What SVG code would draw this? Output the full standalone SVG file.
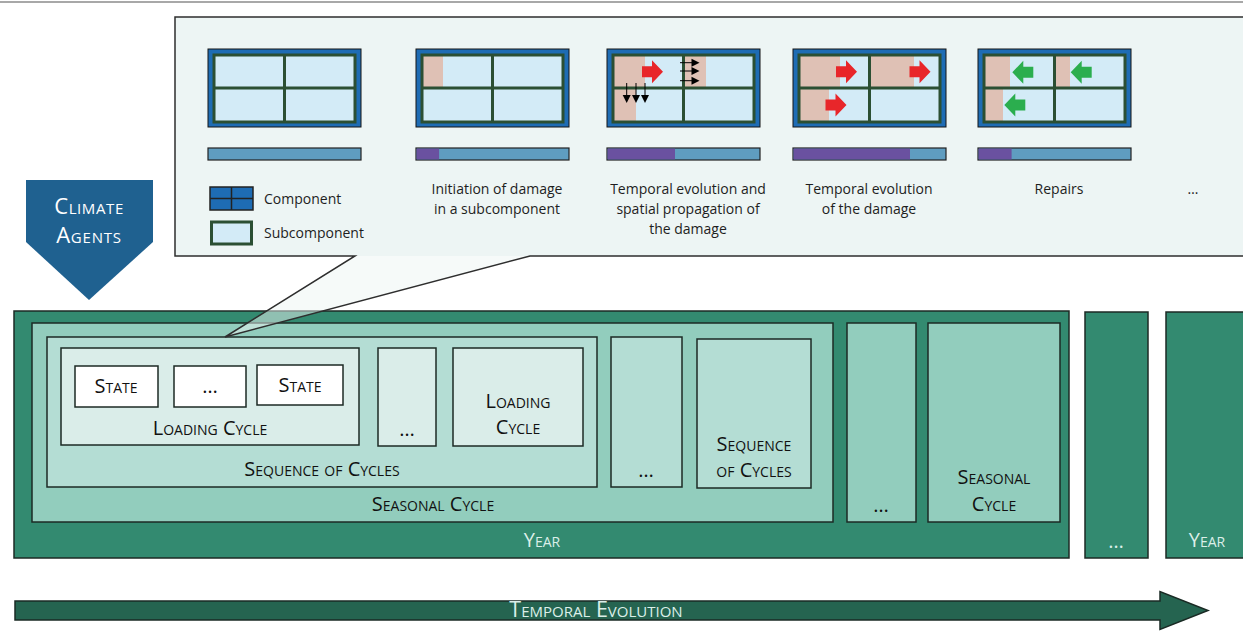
<svg xmlns="http://www.w3.org/2000/svg" xmlns:xlink="http://www.w3.org/1999/xlink" width="1243" height="639" viewBox="0 0 1243 639">
<style>
.t{font-family:"Open Sans","Noto Sans",sans-serif;font-size:14px;fill:#1e1e1e}
.sc{font-family:"Open Sans","Noto Sans",sans-serif;font-size:20px;font-variant:small-caps;fill:#111;text-anchor:middle}
.lt{fill:#dcefe9}
.box{stroke:#1c2a25;stroke-width:1.5}
.yr{fill:#338a70}
.ss{fill:#92cdbd}
.sq{fill:#b4ddd4}
.lc{fill:#daede9}
.st{fill:#ffffff}
.comp{fill:#1e6cb4;stroke:#151515;stroke-width:1}
.cell{fill:#d3ebf7}
.dmg{fill:#dfc1b5}
.frame{fill:none;stroke:#2b4f33;stroke-width:3}
.bar{fill:#5f9dc0;stroke:#222;stroke-width:1.2}
.pur{fill:#6a51a0}
.ra{fill:#e8262a}
.ga{fill:#2bae4e}
.blk{stroke:#000;stroke-width:1}
</style>
<defs>
<path id="rArrow" d="M0,-5.5 H10 V-11.5 L21,0 L10,11.5 V5.5 H0 Z"/>
<path id="gArrow" d="M0,0 L11,-11.5 V-5.5 H21 V5.5 H11 V11.5 Z"/>
<g id="gridBase">
<rect class="comp" x="0" y="49" width="153" height="78"/>
<rect class="cell" x="7" y="56" width="139" height="65"/>
</g>
<g id="gridFrame">
<rect class="frame" x="6" y="55" width="141" height="67"/>
<line class="frame" x1="76.5" y1="55" x2="76.5" y2="122"/>
<line class="frame" x1="6" y1="88" x2="147" y2="88"/>
</g>
</defs>

<rect x="0" y="1" width="1243" height="2" fill="#a8a8a8"/>

<g id="climate-agents">
<polygon points="26,180 153,180 153,242 89,300 26,242" fill="#1f6190"/>
<text x="89" y="214" font-family="'Open Sans','Noto Sans',sans-serif" font-size="22" font-variant="small-caps" letter-spacing="0.6" fill="#ffffff" text-anchor="middle">Climate</text>
<text x="89" y="243" font-family="'Open Sans','Noto Sans',sans-serif" font-size="22" font-variant="small-caps" letter-spacing="0.8" fill="#ffffff" text-anchor="middle">Agents</text>
</g>

<g id="year-1">
<rect class="box yr" x="14" y="311" width="1055" height="247"/>
<text class="sc lt" x="542" y="547">Year</text>
</g>
<g id="seasonal-1">
<rect class="box ss" x="32" y="323" width="801" height="199"/>
<text class="sc" x="433" y="511">Seasonal Cycle</text>
</g>
<g id="sequence-1">
<rect class="box sq" x="47" y="337" width="550" height="150"/>
<text class="sc" x="322" y="476">Sequence of Cycles</text>
</g>
<g id="loading-1">
<rect class="box lc" x="61" y="348" width="298" height="97"/>
<text class="sc" x="210" y="435">Loading Cycle</text>
</g>
<g id="state-1">
<rect class="box st" x="75" y="366" width="83" height="41"/>
<text class="sc" x="116" y="393">State</text>
</g>
<g id="state-dots">
<rect class="box st" x="174" y="366" width="72" height="41"/>
<text class="sc" x="210" y="393">…</text>
</g>
<g id="state-2">
<rect class="box st" x="257" y="365" width="86" height="40"/>
<text class="sc" x="300" y="392">State</text>
</g>
<g id="loading-dots">
<rect class="box lc" x="378" y="348" width="58" height="98"/>
<text class="sc" x="407" y="436">…</text>
</g>
<g id="loading-2">
<rect class="box lc" x="453" y="348" width="130" height="98"/>
<text class="sc" x="518" y="408">Loading</text>
<text class="sc" x="518" y="434">Cycle</text>
</g>
<g id="sequence-dots">
<rect class="box sq" x="611" y="337" width="71" height="150"/>
<text class="sc" x="646" y="477">…</text>
</g>
<g id="sequence-2">
<rect class="box sq" x="697" y="339" width="114" height="149"/>
<text class="sc" x="754" y="451">Sequence</text>
<text class="sc" x="754" y="477">of Cycles</text>
</g>
<g id="seasonal-dots">
<rect class="box ss" x="847" y="323" width="69" height="199"/>
<text class="sc" x="881" y="512">…</text>
</g>
<g id="seasonal-2">
<rect class="box ss" x="928" y="323" width="132" height="199"/>
<text class="sc" x="994" y="484">Seasonal</text>
<text class="sc" x="994" y="511">Cycle</text>
</g>
<g id="year-dots">
<rect class="box yr" x="1085" y="312" width="63" height="246"/>
<text class="sc lt" x="1116" y="548">…</text>
</g>
<g id="year-2">
<rect class="box yr" x="1166" y="312" width="90" height="246"/>
<text class="sc lt" x="1207" y="547">Year</text>
</g>

<g id="callout">
<rect x="175" y="17" width="1080" height="239" fill="#edf5f4"/>
<polygon points="355,256 530,256 225,337" fill="#edf5f4" fill-opacity="0.5"/>
<path d="M355,256 H175 V17 H1255 V256 H530 L225,337 Z" fill="none" stroke="#2e2e2e" stroke-width="1.5" stroke-linejoin="miter"/>
</g>

<g id="state-intact">
<use xlink:href="#gridBase" x="208"/>
<use xlink:href="#gridFrame" x="208"/>
<rect class="bar" x="208" y="148" width="153" height="12"/>
</g>

<g id="state-initiation">
<use xlink:href="#gridBase" x="416"/>
<rect class="dmg" x="422" y="55" width="21" height="33"/>
<use xlink:href="#gridFrame" x="416"/>
<rect class="bar" x="416" y="148" width="153" height="12"/>
<rect class="pur" x="416.6" y="148.6" width="22.5" height="10.8"/>
<text class="t" x="497" y="194" text-anchor="middle">Initiation of damage</text>
<text class="t" x="497" y="214" text-anchor="middle">in a subcomponent</text>
</g>

<g id="state-propagation">
<use xlink:href="#gridBase" x="607"/>
<rect class="dmg" x="614" y="55" width="31" height="33"/>
<rect class="dmg" x="684" y="55" width="22" height="33"/>
<rect class="dmg" x="614" y="88" width="22" height="34"/>
<use xlink:href="#gridFrame" x="607"/>
<use xlink:href="#rArrow" class="ra" x="642" y="71.7"/>
<g class="blk">
<line x1="680" y1="62.7" x2="692" y2="62.7"/>
<line x1="680" y1="71" x2="692" y2="71"/>
<line x1="680" y1="80.7" x2="692" y2="80.7"/>
<line x1="626.7" y1="83" x2="626.7" y2="96"/>
<line x1="636" y1="83" x2="636" y2="96"/>
<line x1="645" y1="83" x2="645" y2="96"/>
</g>
<polygon points="691.5,58.7 699.5,62.7 691.5,66.7"/>
<polygon points="691.5,67 699.5,71 691.5,75"/>
<polygon points="691.5,76.7 699.5,80.7 691.5,84.7"/>
<polygon points="622.7,95 630.7,95 626.7,103"/>
<polygon points="632,95 640,95 636,103"/>
<polygon points="641,95 649,95 645,103"/>
<rect class="bar" x="607" y="148" width="153" height="12"/>
<rect class="pur" x="607.6" y="148.6" width="67.4" height="10.8"/>
<text class="t" x="688" y="194" text-anchor="middle">Temporal evolution and</text>
<text class="t" x="688" y="214" text-anchor="middle">spatial propagation of</text>
<text class="t" x="688" y="234" text-anchor="middle">the damage</text>
</g>

<g id="state-evolution">
<use xlink:href="#gridBase" x="793"/>
<rect class="dmg" x="799" y="55" width="41" height="33"/>
<rect class="dmg" x="870" y="55" width="44" height="33"/>
<rect class="dmg" x="799" y="88" width="30" height="34"/>
<use xlink:href="#gridFrame" x="793"/>
<use xlink:href="#rArrow" class="ra" x="836" y="71.7"/>
<use xlink:href="#rArrow" class="ra" x="909.5" y="71.7"/>
<use xlink:href="#rArrow" class="ra" x="825.5" y="105"/>
<rect class="bar" x="793" y="148" width="153" height="12"/>
<rect class="pur" x="793.6" y="148.6" width="116.4" height="10.8"/>
<text class="t" x="869" y="194" text-anchor="middle">Temporal evolution</text>
<text class="t" x="869" y="214" text-anchor="middle">of the damage</text>
</g>

<g id="state-repairs">
<use xlink:href="#gridBase" x="978"/>
<rect class="dmg" x="985" y="55" width="25" height="33"/>
<rect class="dmg" x="1056" y="55" width="14" height="33"/>
<rect class="dmg" x="985" y="88" width="18" height="34"/>
<use xlink:href="#gridFrame" x="978"/>
<use xlink:href="#gArrow" class="ga" x="1012.3" y="72.3"/>
<use xlink:href="#gArrow" class="ga" x="1070.7" y="72.3"/>
<use xlink:href="#gArrow" class="ga" x="1004.3" y="105"/>
<rect class="bar" x="978" y="148" width="153" height="12"/>
<rect class="pur" x="978.6" y="148.6" width="33" height="10.8"/>
<text class="t" x="1059" y="194" text-anchor="middle">Repairs</text>
</g>

<g id="state-more">
<text class="t" x="1193" y="194" text-anchor="middle">…</text>
</g>

<g id="legend">
<rect x="210" y="187" width="43" height="23" fill="#1e6cb4" stroke="#222" stroke-width="1.5"/>
<line x1="231.5" y1="187" x2="231.5" y2="210" stroke="#222" stroke-width="1.5"/>
<line x1="210" y1="198.5" x2="253" y2="198.5" stroke="#222" stroke-width="1.5"/>
<text class="t" x="264" y="204">Component</text>
<rect x="211.5" y="222" width="40" height="22" fill="#d3ebf7" stroke="#2b4f33" stroke-width="3"/>
<text class="t" x="264" y="238">Subcomponent</text>
</g>

<g id="temporal-evolution">
<path d="M15,601 H1160 V591.5 L1208,610.5 L1160,629.5 V620 H15 Z" fill="#256450" stroke="#1a2a24" stroke-width="1.5"/>
<text class="sc" x="596" y="617" style="fill:#dcefe9;font-size:21.5px">Temporal Evolution</text>
</g>
</svg>
